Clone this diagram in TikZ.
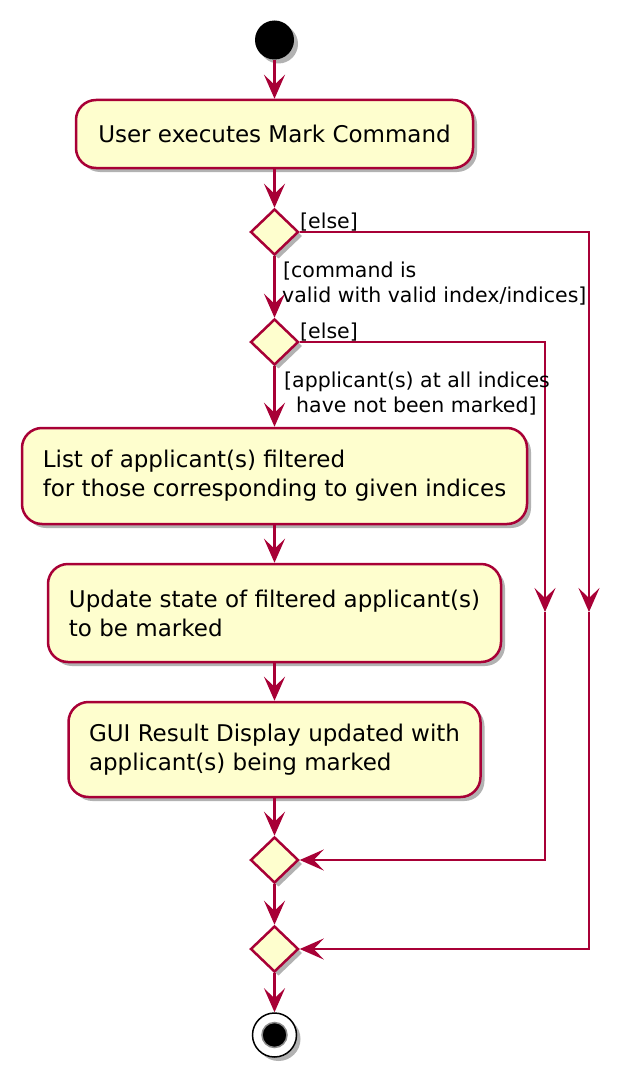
\documentclass[tikz,border=0pt]{standalone}
\usepackage{fontspec}
\setmainfont{DejaVu Sans}
\usetikzlibrary{shapes.geometric,arrows.meta,shadows}
\definecolor{pbord}{HTML}{A80036}
\definecolor{pfill}{HTML}{FEFECE}
\begin{document}
\begin{tikzpicture}[x=1pt,y=-1pt,
 shadowed/.style={drop shadow={shadow xshift=4pt,shadow yshift=-4pt,opacity=0.3,fill=black}},
 actbox/.style={draw=pbord, fill=pfill, line width=2.5pt, rounded corners=20pt, align=left,
   font=\fontsize{23}{29}\selectfont, inner xsep=20pt, shadowed},
 decis/.style={diamond, draw=pbord, fill=pfill, line width=2.5pt, minimum width=48pt,
   minimum height=46pt, inner sep=0pt, shadowed},
 flow/.style={draw=pbord, line width=2.5pt, -{Stealth[length=24pt,width=21pt,inset=10pt]}},
 lbl/.style={anchor=base west, font=\fontsize{20.5}{25}\selectfont, inner sep=0pt}
]
\path[use as bounding box] (0,0) rectangle (638,1089);

\node[circle, fill=black, minimum size=39pt, inner sep=0pt, shadowed] (start) at (274.5,40) {};
\node[actbox, minimum width=397pt, minimum height=68pt] (b1) at (274.5,134) {User executes Mark Command};
\node[decis] (d1) at (274.5,232) {};
\node[decis] (d2) at (274.5,342) {};
\node[actbox, minimum width=505pt, minimum height=96pt] (b2) at (274.5,476) {List of applicant(s) filtered\\for those corresponding to given indices};
\node[actbox, minimum width=453pt, minimum height=98pt] (b3) at (274.5,613) {Update state of filtered applicant(s)\\to be marked};
\node[actbox, minimum width=412pt, minimum height=95pt] (b4) at (274.5,749.5) {GUI Result Display updated with\\applicant(s) being marked};
\node[decis] (d3) at (274.5,860) {};
\node[decis] (d4) at (274.5,949) {};
\node[circle, draw=black, fill=white, line width=1.5pt, minimum size=44pt, inner sep=0pt, shadowed] (end) at (274.5,1035) {};
\node[circle, fill=black, draw=black!45, line width=1.5pt, minimum size=25pt, inner sep=0pt] (endin) at (end) {};

\coordinate (c1) at (589,612);
\coordinate (c2) at (545,612);

\draw[flow] (start) -- (b1);
\draw[flow] (b1) -- (d1);
\draw[flow] (d1) -- (d2);
\draw[flow] (d2) -- (b2);
\draw[flow] (b2) -- (b3);
\draw[flow] (b3) -- (b4);
\draw[flow] (b4) -- (d3);
\draw[flow] (d3) -- (d4);
\draw[flow] (d4) -- (end);

\draw[flow] (d1.east) -| (c1);
\draw[flow] (c1) |- (d4.east);
\draw[flow] (d2.east) -| (c2);
\draw[flow] (c2) |- (d3.east);

\node[lbl] (e1) at (300,228) {[else]};
\node[lbl] (e2) at (300,338) {[else]};
\node[lbl] (g1a) at (283,277) {[command is};
\node[lbl] (g1b) at (282,302) {valid with valid index/indices]};
\node[lbl] (g2a) at (284,387) {[applicant(s) at all indices};
\node[lbl] (g2b) at (296,412) {have not been marked]};
\end{tikzpicture}
\end{document}
